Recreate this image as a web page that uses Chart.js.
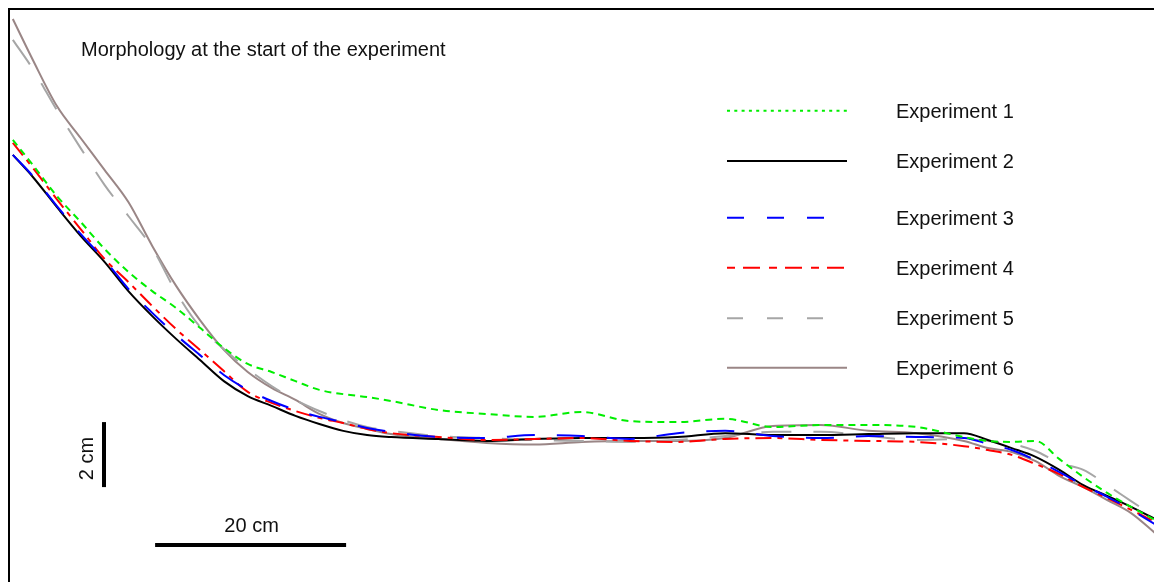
<!DOCTYPE html>
<html>
<head>
<meta charset="utf-8">
<script src="https://cdn.jsdelivr.net/npm/chart.js@4"></script>
<style>
  html, body { margin: 0; padding: 0; background: #fff; }
  #wrap { width: 1154px; height: 582px; }
</style>
</head>
<body>
<div id="wrap"><canvas id="profile" width="1154" height="582"></canvas></div>
<script>
// distance along the flume (cm)
const X_CM = [0.4, 2.5, 5, 7.5, 10, 12.5, 15, 17.5, 20, 22.5, 25, 27.5, 30, 32.5, 35, 37.5, 40,
  45, 50, 55, 60, 65, 70, 75, 80, 85, 90, 95, 100, 102.5, 105, 107.5, 110, 112.5, 115, 117.5, 120];

// bed elevation (cm) per experiment
const EXP1 = [13.6, 12.83, 11.88, 11.08, 10.25, 9.54, 8.95, 8.43, 7.82, 7.2, 6.71, 6.46, 6.18, 5.91, 5.78, 5.69, 5.57,
  5.29, 5.17, 5.08, 5.23, 4.95, 4.92, 5.02, 4.77, 4.83, 4.83, 4.77, 4.46, 4.34, 4.31, 4.34, 3.78, 3.23, 2.74, 2.31, 1.91];
const EXP2 = [13.14, 12.46, 11.54, 10.65, 9.85, 8.95, 8.18, 7.48, 6.83, 6.18, 5.72, 5.42, 5.11, 4.86, 4.65, 4.52, 4.46,
  4.4, 4.34, 4.4, 4.43, 4.43, 4.46, 4.58, 4.52, 4.52, 4.55, 4.58, 4.58, 4.37, 4.12, 3.85, 3.45, 2.98, 2.65, 2.31, 1.94];
const EXP3 = [13.14, 12.49, 11.57, 10.71, 9.91, 9.02, 8.28, 7.6, 6.98, 6.37, 5.91, 5.57, 5.29, 5.08, 4.92, 4.74, 4.62,
  4.46, 4.43, 4.52, 4.49, 4.4, 4.58, 4.65, 4.49, 4.43, 4.49, 4.46, 4.43, 4.25, 4.06, 3.75, 3.38, 2.98, 2.62, 2.22, 1.78];
const EXP4 = [13.51, 12.74, 11.78, 10.86, 9.94, 9.23, 8.49, 7.78, 7.14, 6.49, 5.85, 5.51, 5.26, 5.05, 4.89, 4.71, 4.58,
  4.46, 4.37, 4.4, 4.43, 4.34, 4.31, 4.4, 4.43, 4.37, 4.34, 4.31, 4.18, 4.06, 3.91, 3.63, 3.32, 2.92, 2.58, 2.22, 1.85];
const EXP5 = [16.68, 15.78, 14.52, 13.35, 12.22, 11.26, 10.28, 8.92, 7.85, 7.17, 6.55, 6.03, 5.6, 5.26, 4.98, 4.77, 4.65,
  4.49, 4.43, 4.37, 4.34, 4.31, 4.37, 4.49, 4.62, 4.62, 4.49, 4.37, 4.4, 4.34, 4.25, 4.03, 3.66, 3.45, 2.98, 2.49, 2.0];
const EXP6 = [17.32, 16.06, 14.65, 13.66, 12.68, 11.69, 10.34, 9.11, 8.06, 7.14, 6.46, 5.97, 5.6, 5.17, 4.89, 4.71, 4.55,
  4.4, 4.28, 4.23, 4.31, 4.34, 4.34, 4.43, 4.8, 4.83, 4.65, 4.58, 4.34, 4.12, 4.0, 3.72, 3.26, 2.92, 2.52, 2.12, 1.51];

const SERIES_NAMES = ['Experiment 1', 'Experiment 2', 'Experiment 3', 'Experiment 4', 'Experiment 5', 'Experiment 6'];

// scale bars (cm)
const VBAR_X = [9.95, 9.95];
const VBAR_Y = [2.92, 4.92];
const HBAR_X = [15.3, 35.3];
const HBAR_Y = [1.14, 1.14];

const X_MAX = 119.9;
const Y_MAX = 17.66;
const FONT = '20px "Liberation Sans", Arial, sans-serif';

// line styles
const STYLES = [
    { color: '#00ee00', dash: [7, 5], legendDash: [3, 4.3] },
    { color: '#000000', dash: [], legendDash: [] },
    { color: '#0000ff', dash: [28, 22], legendDash: [17, 23] },
    { color: '#ff0000', dash: [16, 6, 5, 6], legendDash: [8, 8, 17, 9] },
    { color: '#a6a6a6', dash: [30, 22], legendDash: [16, 24] },
    { color: '#9a8686', dash: [], legendDash: [] }
];
const DRAW_ORDER = [1, 4, 2, 3, 5, 6];

function toPoints(xs, ys) {
    return xs.map((x, i) => ({ x: x, y: ys[i] }));
}

const seriesData = [EXP1, EXP2, EXP3, EXP4, EXP5, EXP6];

const datasets = seriesData.map((vals, i) => ({
    label: SERIES_NAMES[i],
    data: toPoints(X_CM, vals),
    borderColor: STYLES[i].color,
    borderDash: STYLES[i].dash,
    borderWidth: 2,
    pointRadius: 0,
    fill: false,
    cubicInterpolationMode: 'monotone',
    order: DRAW_ORDER[i]
}));

// scale bars drawn as data lines
datasets.push({
    label: 'vbar', data: toPoints(VBAR_X, VBAR_Y),
    borderColor: '#000', borderWidth: 4, pointRadius: 0, borderCapStyle: 'butt', order: 0
});
datasets.push({
    label: 'hbar', data: toPoints(HBAR_X, HBAR_Y),
    borderColor: '#000', borderWidth: 4, pointRadius: 0, borderCapStyle: 'butt', order: 0
});

// frame, title, scale labels and legend
const decorPlugin = {
    id: 'decor',
    afterDraw(chart) {
        const ctx = chart.ctx;
        const xs = chart.scales.x;
        const ys = chart.scales.y;
        ctx.save();

        // frame (left and top)
        ctx.fillStyle = '#000';
        ctx.fillRect(8, 8, 2, chart.height - 8);
        ctx.fillRect(8, 8, chart.width - 8, 2);

        ctx.font = FONT;
        ctx.fillStyle = '#111';
        ctx.textBaseline = 'alphabetic';

        // title
        ctx.textAlign = 'left';
        ctx.fillText('Morphology at the start of the experiment', 81, 56);

        // "2 cm" beside vertical bar
        const vx = xs.getPixelForValue(VBAR_X[0]);
        const vy = (ys.getPixelForValue(VBAR_Y[0]) + ys.getPixelForValue(VBAR_Y[1])) / 2;
        ctx.save();
        ctx.translate(vx - 11, vy + 4);
        ctx.rotate(-Math.PI / 2);
        ctx.textAlign = 'center';
        ctx.fillText('2 cm', 0, 0);
        ctx.restore();

        // "20 cm" above horizontal bar
        const hx = (xs.getPixelForValue(HBAR_X[0]) + xs.getPixelForValue(HBAR_X[1])) / 2;
        const hy = ys.getPixelForValue(HBAR_Y[0]);
        ctx.textAlign = 'center';
        ctx.fillText('20 cm', hx + 1, hy - 13);

        // legend
        const legendY = [110.7, 161, 217.7, 267.7, 318.3, 367.7];
        SERIES_NAMES.forEach((name, i) => {
            const y = legendY[i];
            ctx.beginPath();
            ctx.strokeStyle = STYLES[i].color;
            ctx.lineWidth = 2;
            ctx.setLineDash(STYLES[i].legendDash);
            ctx.moveTo(727, y);
            ctx.lineTo(847, y);
            ctx.stroke();
            ctx.setLineDash([]);
            ctx.textAlign = 'left';
            ctx.fillStyle = '#111';
            ctx.fillText(name, 896, y + 7);
        });

        ctx.restore();
    }
};

new Chart(document.getElementById('profile'), {
    type: 'line',
    data: { datasets },
    options: {
        responsive: false,
        animation: false,
        devicePixelRatio: 1,
        layout: { padding: { left: 9, top: 8, right: 0, bottom: 0 } },
        plugins: {
            legend: { display: false },
            tooltip: { enabled: false },
            title: { display: false }
        },
        scales: {
            x: { type: 'linear', min: 0, max: X_MAX, display: false },
            y: { type: 'linear', min: 0, max: Y_MAX, display: false }
        }
    },
    plugins: [decorPlugin]
});
</script>
</body>
</html>
